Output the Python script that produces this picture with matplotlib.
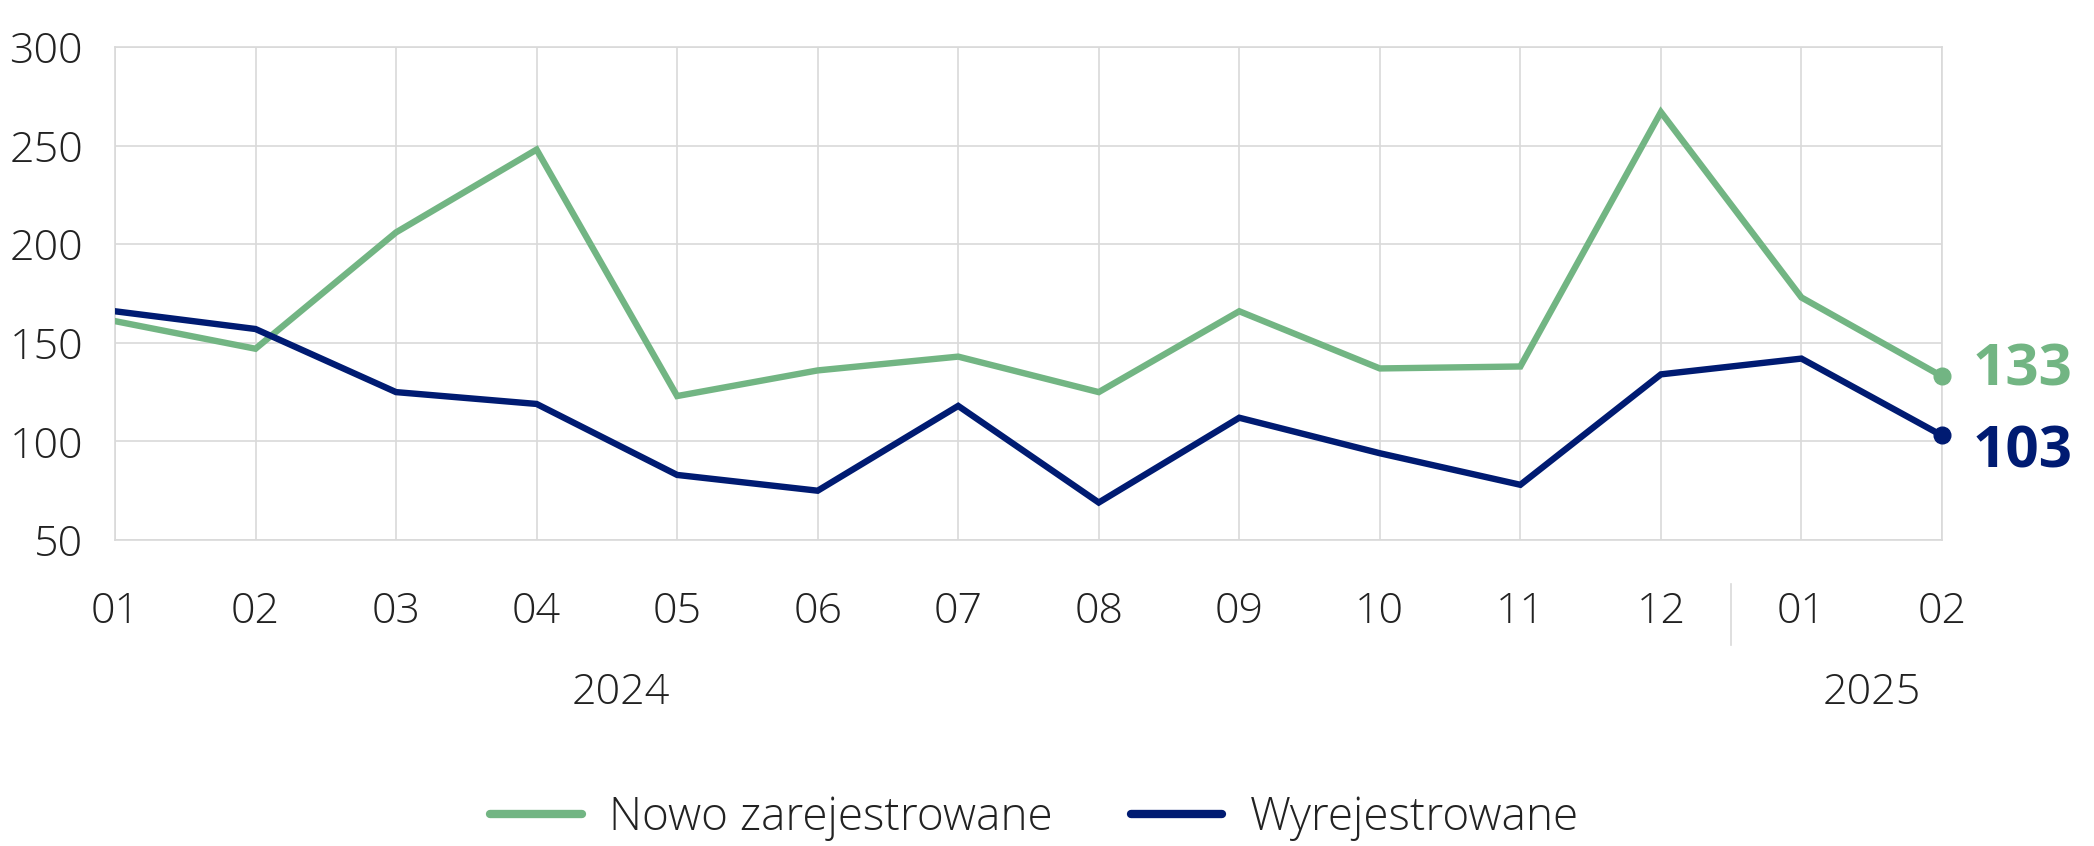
import matplotlib.pyplot as plt
from matplotlib import transforms, font_manager

# data
months = ['01', '02', '03', '04', '05', '06', '07', '08', '09', '10', '11', '12', '01', '02']
years = ['2024', '2025']
year_pos = [3.6, 12.5]
nowo = [161, 147, 206, 248, 123, 136, 143, 125, 166, 137, 138, 267, 173, 133]
wyrej = [166, 157, 125, 119, 83, 75, 118, 69, 112, 94, 78, 134, 142, 103]

GREEN = '#72B583'
NAVY = '#001B72'
GRID = '#d9d9d9'
TXT = '#222222'

# look for a family that really has a light face installed
light_family = None
for fam in ['Open Sans', 'Lato', 'Roboto', 'Inter', 'Noto Sans']:
    for f in font_manager.fontManager.ttflist:
        w = f.weight if isinstance(f.weight, int) else 400
        if f.name == fam and w <= 300 and f.style == 'normal':
            light_family = fam
            break
    if light_family:
        break
if light_family is None:
    light_family = 'Open Sans'

plt.rcParams['font.family'] = [light_family, 'DejaVu Sans']

fig = plt.figure(figsize=(20.94, 8.46), dpi=100)
ax = fig.add_axes([0.0549, 0.3617, 0.8725, 0.5827])

x = list(range(len(months)))
ax.plot(x, nowo, color=GREEN, lw=4.6, solid_joinstyle='miter', label='Nowo zarejestrowane', zorder=3)
ax.plot(x, wyrej, color=NAVY, lw=4.6, solid_joinstyle='miter', label='Wyrejestrowane', zorder=3)
ax.plot(x[-1], nowo[-1], 'o', color=GREEN, ms=12, zorder=4, clip_on=False)
ax.plot(x[-1], wyrej[-1], 'o', color=NAVY, ms=12, zorder=4, clip_on=False)

ax.annotate(str(nowo[-1]), (x[-1], nowo[-1]), xytext=(22, 4), textcoords='offset points',
            ha='left', va='center', fontsize=42, fontweight='bold', color=GREEN, family='Open Sans')
ax.annotate(str(wyrej[-1]), (x[-1], wyrej[-1]), xytext=(22, -12), textcoords='offset points',
            ha='left', va='center', fontsize=42, fontweight='bold', color=NAVY, family='Open Sans')

ax.set_xlim(0, len(months) - 1)
ax.set_ylim(50, 300)
ax.set_yticks([50, 100, 150, 200, 250, 300])
ax.set_xticks(x)
ax.set_xticklabels(months)
ax.grid(True, color=GRID, lw=1.2, zorder=0)
for s in ax.spines.values():
    s.set_color(GRID)
    s.set_linewidth(1.2)
ax.tick_params(axis='both', length=0, labelsize=31, labelcolor=TXT)
ax.tick_params(axis='x', pad=36)
ax.tick_params(axis='y', pad=23)
for lab in ax.get_xticklabels() + ax.get_yticklabels():
    lab.set_fontweight('light')

# year labels and separator under the axis
trans = transforms.blended_transform_factory(ax.transData, ax.transAxes)
for yr, xp in zip(years, year_pos):
    ax.text(xp, -0.31, yr, transform=trans, ha='center', va='center', fontsize=31,
            fontweight='light', color=TXT)
ax.plot([11.5, 11.5], [-0.089, -0.213], transform=trans, color=GRID, lw=1.2, clip_on=False)

leg = fig.legend(loc='center', bbox_to_anchor=(0.494, 0.033), ncol=2, frameon=False,
                 fontsize=33, handlelength=2.0, handletextpad=0.6, columnspacing=1.7)
for t in leg.get_texts():
    t.set_fontweight('light')
    t.set_color(TXT)
for h in leg.get_lines():
    h.set_linewidth(6)
    h.set_solid_capstyle('round')

fig.savefig('out.png', dpi=100)
